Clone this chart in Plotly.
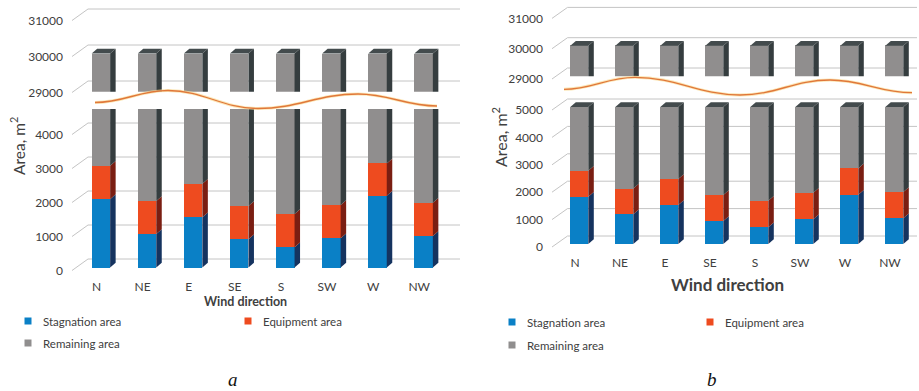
import plotly.graph_objects as go

W, H = 919, 391

# ---------------- data ----------------
directions = ["N", "NE", "E", "SE", "S", "SW", "W", "NW"]

# panel a
stagnation_a = [2010, 985, 1480, 830, 595, 860, 2110, 925]
equipment_a = [980, 970, 980, 980, 980, 980, 950, 980]
total_a = [30000, 30000, 30000, 30000, 30000, 30000, 30000, 30000]

# panel b
stagnation_b = [1725, 1085, 1425, 840, 610, 900, 1800, 940]
equipment_b = [950, 940, 950, 950, 970, 970, 960, 960]
total_b = [30000, 30000, 30000, 30000, 30000, 30000, 30000, 30000]

lower_ticks_a = [0, 1000, 2000, 3000, 4000]
lower_ticks_b = [0, 1000, 2000, 3000, 4000, 5000]
upper_ticks = [29000, 30000, 31000]

series_names = ["Stagnation area", "Equipment area", "Remaining area"]

# ---------------- styling ----------------
FRONT = ["#0A80C6", "#EE4B1F", "#908E8E"]
SIDE = ["#15335F", "#7A1E12", "#353D3F"]
TOP = "#434B4D"
GRID = "#C4C4C4"
TXT = "#404040"
FONT = "Lato, 'Noto Sans', sans-serif"

panels = [
    dict(
        label="a", stag=stagnation_a, equip=equipment_a, total=total_a,
        x_px=(70, 460), cat0=96.5, step=46.1, shift=4.4, bar_w=18.5,
        up=dict(base_px=89.5, base_val=29000, k=0.036, rng=(28940, 31300), ticks=upper_ticks),
        lo=dict(base_px=267.5, base_val=0, k=0.034, rng=(-74, 4662), ticks=lower_ticks_a),
        cap=None,
        grid_x=(72, 88, 460), grid_dy=11.5,
        ytitle=(17, 146, 15.5), xtitle=(245, 301, 12.5), ticksize=12, xstandoff=8,
        legend=[(28, 321), (248, 321), (28, 343)], legend_font=11.5,
        wave=[(95, 102.5), (168, 90.5), (258, 108.5), (358, 94), (437, 106)],
        caption=(233, 379),
    ),
    dict(
        label="b", stag=stagnation_b, equip=equipment_b, total=total_b,
        x_px=(550, 919), cat0=575, step=45.0, shift=4.3, bar_w=18.0,
        up=dict(base_px=76, base_val=29000, k=0.0303, rng=(28995, 31300), ticks=upper_ticks),
        lo=dict(base_px=244, base_val=0, k=0.0274, rng=(-73, 5292), ticks=lower_ticks_b),
        cap=5000,
        grid_x=(552, 567.5, 917), grid_dy=11,
        ytitle=(500, 137, 16), xtitle=(727, 284, 17), ticksize=12, xstandoff=8,
        legend=[(512, 322), (710, 322), (512, 345)], legend_font=11.5,
        wave=[(564, 89.3), (635, 77.3), (740, 95), (830, 80), (912, 92.7)],
        caption=(712, 379),
    ),
]

DX_PX, DY_PX = 5.5, 4.8


def pxx(x):
    return x / W


def pxy(y):
    return 1 - y / H


def to_px(ax, v):
    return ax["base_px"] - (v - ax["base_val"]) * ax["k"]


fig = go.Figure()
layout = {}
shapes = []
annotations = []

for n, p in enumerate(panels):
    xname = "x" if n == 0 else "x2"
    xkey = "xaxis" if n == 0 else "xaxis2"
    up_name = "y" if n == 0 else "y3"
    lo_name = "y2" if n == 0 else "y4"
    up_key = "yaxis" if n == 0 else "yaxis3"
    lo_key = "yaxis2" if n == 0 else "yaxis4"

    x0, x1 = p["x_px"]
    xr_lo = -(p["cat0"] - x0) / p["step"]
    xr_hi = (x1 - p["cat0"]) / p["step"]
    w = p["bar_w"] / p["step"]
    off = -w / 2 + p["shift"] / p["step"]
    dxu = DX_PX / p["step"]
    xs = list(range(len(directions)))

    layout[xkey] = dict(
        domain=[pxx(x0), pxx(x1)], range=[xr_lo, xr_hi], anchor=lo_name,
        tickvals=xs, ticktext=directions, showgrid=False, zeroline=False,
        showline=False, ticks="", ticklabelstandoff=p["xstandoff"], automargin=False,
        tickfont=dict(family=FONT, size=p["ticksize"], color=TXT),
        fixedrange=True,
    )

    remaining = [t - s - e for t, s, e in zip(p["total"], p["stag"], p["equip"])]

    for part, yname, ykey in (("up", up_name, up_key), ("lo", lo_name, lo_key)):
        ax = p[part]
        top_px = to_px(ax, ax["rng"][1])
        bot_px = to_px(ax, ax["rng"][0])
        layout[ykey] = dict(
            domain=[pxy(bot_px), pxy(top_px)], range=list(ax["rng"]), anchor=xname,
            tickvals=ax["ticks"], ticktext=[str(t) for t in ax["ticks"]],
            showgrid=False, zeroline=False, showline=False, automargin=False,
            ticks="", ticklabelshift=3, ticklabelstandoff=6,
            tickfont=dict(family=FONT, size=p["ticksize"], color=TXT), fixedrange=True,
        )

        if part == "lo" and p["cap"] is not None:
            rem_shown = [p["cap"] - s - e for s, e in zip(p["stag"], p["equip"])]
        else:
            rem_shown = remaining

        for vals, col, name in zip((p["stag"], p["equip"], rem_shown), FRONT, series_names):
            fig.add_trace(go.Bar(
                x=xs, y=vals, width=w, offset=off, marker=dict(color=col, line=dict(width=0)),
                name=name, xaxis=xname, yaxis=yname, showlegend=False,
            ))

        # side and top faces of the 3-D columns
        dyv = DY_PX / ax["k"]
        for i in xs:
            lo_edge = i + off
            hi_edge = i + off + w
            b1 = p["stag"][i]
            b2 = b1 + p["equip"][i]
            b3 = b2 + rem_shown[i]
            for (y0, y1), sc in zip(((0, b1), (b1, b2), (b2, b3)), SIDE):
                shapes.append(dict(
                    type="path", xref=xname, yref=yname, layer="above",
                    path=f"M {hi_edge},{y0} L {hi_edge + dxu},{y0 + dyv} L {hi_edge + dxu},{y1 + dyv} L {hi_edge},{y1} Z",
                    fillcolor=sc, line=dict(width=0),
                ))
            if part == "up" or p["cap"] is not None:
                shapes.append(dict(
                    type="path", xref=xname, yref=yname, layer="above",
                    path=f"M {lo_edge},{b3} L {lo_edge + dxu},{b3 + dyv} L {hi_edge + dxu},{b3 + dyv} L {hi_edge},{b3} Z",
                    fillcolor=TOP, line=dict(width=0),
                ))

        # back-wall gridlines with the perspective stub on the left
        gx0, gx1, gx2 = p["grid_x"]
        for v in ax["ticks"]:
            yf = to_px(ax, v) + 3
            yb = yf - p["grid_dy"]
            shapes.append(dict(
                type="path", xref="paper", yref="paper", layer="below",
                path=f"M {pxx(gx0)},{pxy(yf)} L {pxx(gx1)},{pxy(yb)} L {pxx(gx2)},{pxy(yb)}",
                line=dict(color=GRID, width=1),
            ))

    # axis-break wave
    pts = p["wave"]
    d = f"M {pxx(pts[0][0])},{pxy(pts[0][1])}"
    for (ax_, ay_), (bx_, by_) in zip(pts[:-1], pts[1:]):
        dd = bx_ - ax_
        d += (f" C {pxx(ax_ + 0.4 * dd)},{pxy(ay_)} {pxx(bx_ - 0.4 * dd)},{pxy(by_)}"
              f" {pxx(bx_)},{pxy(by_)}")
    shapes.append(dict(type="path", xref="paper", yref="paper", layer="above", path=d,
                       line=dict(color="rgba(250,220,150,0.7)", width=3)))
    shapes.append(dict(type="path", xref="paper", yref="paper", layer="above", path=d,
                       line=dict(color="#E0773A", width=1.3)))

    # titles
    tx, ty, ts = p["ytitle"]
    annotations.append(dict(
        text="Area, m<sup>2</sup>", x=pxx(tx), y=pxy(ty), xref="paper", yref="paper",
        textangle=-90, showarrow=False, font=dict(family=FONT, size=ts, color=TXT),
        xanchor="center", yanchor="middle",
    ))
    tx, ty, ts = p["xtitle"]
    annotations.append(dict(
        text="<b>Wind direction</b>", x=pxx(tx), y=pxy(ty), xref="paper", yref="paper",
        showarrow=False, font=dict(family=FONT, size=ts, color=TXT),
        xanchor="center", yanchor="middle",
    ))

    # legend
    for (lx, ly), col, name in zip(p["legend"], FRONT, series_names):
        shapes.append(dict(
            type="rect", xref="paper", yref="paper",
            x0=pxx(lx - 3.5), x1=pxx(lx + 3.5), y0=pxy(ly + 3.5), y1=pxy(ly - 3.5),
            fillcolor=col, line=dict(width=0),
        ))
        annotations.append(dict(
            text=name, x=pxx(lx + 13), y=pxy(ly), xref="paper", yref="paper",
            showarrow=False, xanchor="left", yanchor="middle",
            font=dict(family=FONT, size=p["legend_font"], color=TXT),
        ))

    cx, cy = p["caption"]
    annotations.append(dict(
        text=f"<i>{p['label']}</i>", x=pxx(cx), y=pxy(cy), xref="paper", yref="paper",
        showarrow=False, xanchor="center", yanchor="middle",
        font=dict(family="'Liberation Serif', 'DejaVu Serif', serif", size=19, color="#111111"),
    ))

fig.update_layout(
    width=W, height=H, margin=dict(l=0, r=0, t=0, b=0, autoexpand=False),
    barmode="stack", bargap=0,
    paper_bgcolor="white", plot_bgcolor="rgba(0,0,0,0)",
    showlegend=False, shapes=shapes, annotations=annotations,
    **layout,
)

fig.write_html("out.html")
